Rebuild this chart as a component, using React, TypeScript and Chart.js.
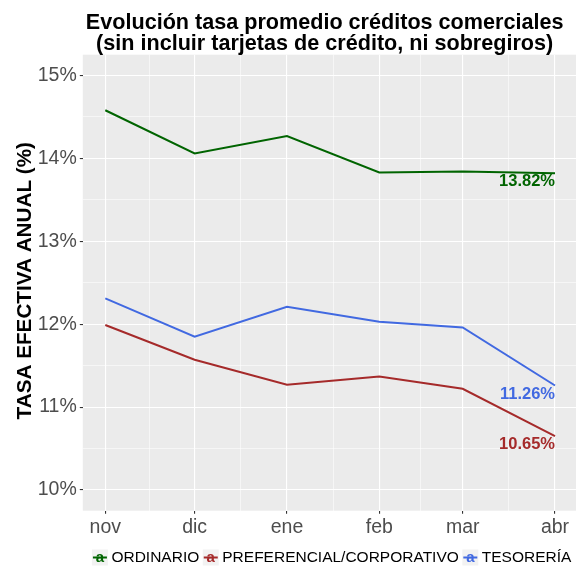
import React, { useEffect, useRef } from "react";
import { Chart, registerables } from "chart.js";

Chart.register(...registerables);

// ---------- data ----------
const monthLabels = ["nov", "dic", "ene", "feb", "mar", "abr"];
const monthDates = ["2016-11-01", "2016-12-01", "2017-01-01", "2017-02-01", "2017-03-01", "2017-04-01"];
const ordinario = [14.58, 14.06, 14.27, 13.83, 13.84, 13.82];
const preferencial = [11.99, 11.57, 11.27, 11.37, 11.22, 10.65];
const tesoreria = [12.31, 11.85, 12.21, 12.03, 11.96, 11.26];
const seriesNames = ["ORDINARIO", "PREFERENCIAL/CORPORATIVO", "TESORERÍA"];
const seriesColors = ["#006400", "#A52A2A", "#4169E1"];
const yTicks = [10, 11, 12, 13, 14, 15];
const yLimits = [10, 15];
const titleLines = [
  "Evolución tasa promedio créditos comerciales",
  "(sin incluir tarjetas de crédito, ni sobregiros)",
];
const yTitle = "TASA EFECTIVA ANUAL (%)";

// ---------- derived ----------
const DAY = 86400000;
const t0 = Date.parse(monthDates[0]);
const xDays = monthDates.map((d) => (Date.parse(d) - t0) / DAY);
const xMinor = xDays.slice(1).map((v, i) => (v + xDays[i]) / 2);
const xAllTicks = [...xDays, ...xMinor].sort((a, b) => a - b);
const yMinor = yTicks.slice(1).map((v, i) => (v + yTicks[i]) / 2);
const yAllTicks = [...yTicks, ...yMinor].sort((a, b) => a - b);
const xRange = xDays[xDays.length - 1] - xDays[0];
const xMin = xDays[0] - 0.05 * xRange;
const xMax = xDays[xDays.length - 1] + 0.05 * xRange;
const yRange = yLimits[1] - yLimits[0];
const yMin = yLimits[0] - 0.05 * yRange;
const yMax = yLimits[1] + 0.05 * yRange;

const FONT = "'Liberation Sans', Arial, Helvetica, sans-serif";
const W = 580;
const H = 570;

const isMajorX = (v: number) => xDays.some((d) => Math.abs(d - v) < 1e-6);
const isMajorY = (v: number) => yTicks.some((d) => Math.abs(d - v) < 1e-6);

const decorPlugin = {
  id: "ggdecor",
  beforeDraw(chart: any) {
    const { ctx, chartArea: a } = chart;
    ctx.save();
    ctx.fillStyle = "#FFFFFF";
    ctx.fillRect(0, 0, chart.width, chart.height);
    ctx.fillStyle = "#EBEBEB";
    ctx.fillRect(a.left, a.top, a.right - a.left, a.bottom - a.top);
    ctx.restore();
  },
  afterDatasetsDraw(chart: any) {
    const { ctx } = chart;
    ctx.save();
    ctx.font = `bold 16.5px ${FONT}`;
    ctx.textAlign = "right";
    ctx.textBaseline = "alphabetic";
    chart.data.datasets.forEach((ds: any, i: number) => {
      const meta = chart.getDatasetMeta(i);
      const last = meta.data[meta.data.length - 1];
      const val = ds.data[ds.data.length - 1].y;
      ctx.fillStyle = seriesColors[i];
      ctx.fillText(`${val.toFixed(2)}%`, last.x, last.y + 13);
    });
    ctx.restore();
  },
  afterDraw(chart: any) {
    const { ctx, chartArea: a } = chart;
    const cx = (a.left + a.right) / 2;
    ctx.save();
    // title
    ctx.fillStyle = "#000000";
    ctx.font = `bold 21.6px ${FONT}`;
    ctx.textAlign = "center";
    ctx.textBaseline = "alphabetic";
    ctx.fillText(titleLines[0], cx - 5.5, 28.5);
    ctx.fillText(titleLines[1], cx - 5.5, 50);
    // y title
    ctx.save();
    ctx.translate(25, (a.top + a.bottom) / 2 - 2);
    ctx.rotate(-Math.PI / 2);
    ctx.font = `bold 20.7px ${FONT}`;
    ctx.textBaseline = "middle";
    ctx.textAlign = "center";
    ctx.fillText(yTitle, 0, 0);
    ctx.restore();
    // legend
    ctx.font = `15.5px ${FONT}`;
    const key = 16;
    const gapKT = 3.5;
    const gapItems = 3.5;
    const widths = seriesNames.map((n) => ctx.measureText(n).width);
    const total =
      widths.reduce((s, w) => s + w, 0) + seriesNames.length * (key + gapKT) + (seriesNames.length - 1) * gapItems;
    let x = cx + 1.5 - total / 2;
    const ly = 557.5;
    seriesNames.forEach((n, i) => {
      ctx.fillStyle = "#F2F2F2";
      ctx.fillRect(x, ly - key / 2, key, key);
      ctx.strokeStyle = seriesColors[i];
      ctx.lineWidth = 2;
      ctx.beginPath();
      ctx.moveTo(x + 1, ly);
      ctx.lineTo(x + key - 1, ly);
      ctx.stroke();
      ctx.fillStyle = seriesColors[i];
      ctx.font = `bold 15px ${FONT}`;
      ctx.textAlign = "center";
      ctx.textBaseline = "alphabetic";
      ctx.fillText("a", x + key / 2, ly + 4);
      ctx.font = `15.5px ${FONT}`;
      ctx.textAlign = "left";
      ctx.textBaseline = "middle";
      ctx.fillStyle = "#000000";
      ctx.fillText(n, x + key + gapKT, ly + 0.5);
      x += key + gapKT + widths[i] + gapItems;
    });
    ctx.restore();
  },
};

export default function App() {
  const ref = useRef<HTMLCanvasElement | null>(null);
  useEffect(() => {
    if (!ref.current) return;
    const series = [ordinario, preferencial, tesoreria];
    const chart = new Chart(ref.current, {
      type: "line",
      data: {
        datasets: series.map((vals, i) => ({
          label: seriesNames[i],
          data: vals.map((v, j) => ({ x: xDays[j], y: v })),
          borderColor: seriesColors[i],
          backgroundColor: seriesColors[i],
          borderWidth: 2,
          pointRadius: 0,
          tension: 0,
          fill: false,
        })),
      },
      options: {
        responsive: false,
        animation: false,
        events: [],
        layout: { padding: { top: 54.7, left: 0, right: W - 577.5, bottom: 0 } },
        plugins: {
          legend: { display: false },
          title: { display: false },
          tooltip: { enabled: false },
        },
        scales: {
          x: {
            type: "linear",
            min: xMin,
            max: xMax,
            afterBuildTicks: (s: any) => {
              s.ticks = xAllTicks.map((v) => ({ value: v }));
            },
            afterFit: (s: any) => {
              s.height = H - 510.7;
            },
            ticks: {
              autoSkip: false,
              maxRotation: 0,
              padding: 2,
              color: "#4D4D4D",
              font: { family: FONT, size: 19.5 },
              callback: (v: any) => {
                const idx = xDays.findIndex((d) => Math.abs(d - v) < 1e-6);
                return idx >= 0 ? monthLabels[idx] : "";
              },
            },
            grid: {
              color: "#FFFFFF",
              lineWidth: (c: any) => (c.tick && isMajorX(c.tick.value) ? 1.1 : 0.55),
              tickColor: (c: any) => (c.tick && isMajorX(c.tick.value) ? "#333333" : "rgba(0,0,0,0)"),
              tickLength: 3,
              drawTicks: true,
            },
            border: { display: false },
          },
          y: {
            type: "linear",
            min: yMin,
            max: yMax,
            afterBuildTicks: (s: any) => {
              s.ticks = yAllTicks.map((v) => ({ value: v }));
            },
            afterFit: (s: any) => {
              s.width = 82.8;
            },
            ticks: {
              autoSkip: false,
              padding: 3,
              color: "#4D4D4D",
              font: { family: FONT, size: 19.5 },
              callback: (v: any) => (isMajorY(v) ? `${Math.round(v)}%` : ""),
            },
            grid: {
              color: "#FFFFFF",
              lineWidth: (c: any) => (c.tick && isMajorY(c.tick.value) ? 1.1 : 0.55),
              tickColor: (c: any) => (c.tick && isMajorY(c.tick.value) ? "#333333" : "rgba(0,0,0,0)"),
              tickLength: 3,
              drawTicks: true,
            },
            border: { display: false },
          },
        },
      },
      plugins: [decorPlugin],
    });
    return () => chart.destroy();
  }, []);
  return (
    <div style={{ position: "absolute", left: 0, top: 0, width: 576, height: H, overflow: "hidden" }}>
      <canvas ref={ref} width={W} height={H} style={{ display: "block", width: W, height: H }} />
    </div>
  );
}
